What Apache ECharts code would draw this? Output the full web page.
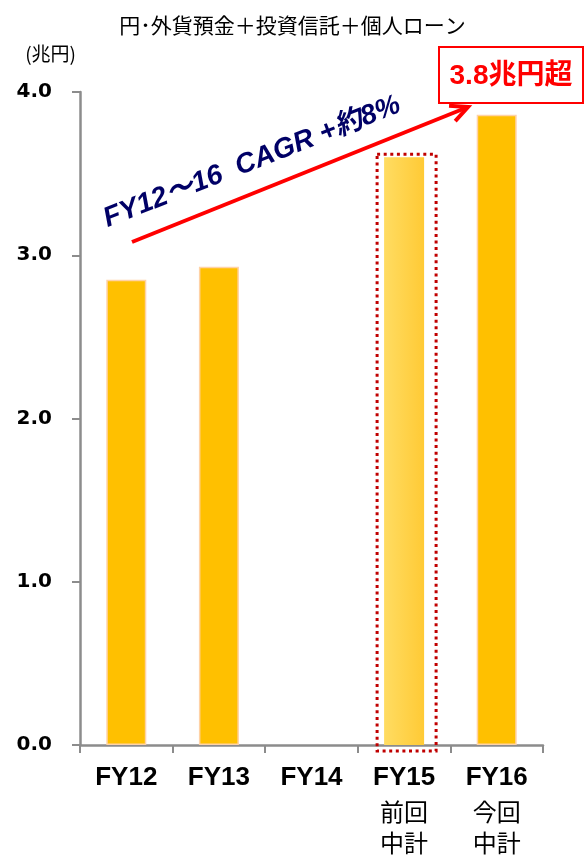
<!DOCTYPE html>
<html>
<head>
<meta charset="utf-8">
<script src="https://cdn.jsdelivr.net/npm/echarts@6/dist/echarts.min.js"></script>
<style>
  html, body { margin: 0; padding: 0; background: #fff; }
  #chart { width: 585px; height: 858px; }
</style>
</head>
<body>
<div id="chart"></div>
<script>
// Balance of yen/foreign-currency deposits + investment trusts + personal loans (trillion yen)
const categories = ['FY12', 'FY13', 'FY14', 'FY15', 'FY16'];
const subLabels = { FY15: ['前回', '中計'], FY16: ['今回', '中計'] };
const balances = [2.85, 2.93, null, 3.60, 3.86];
const yTicks = [0, 1, 2, 3, 4];
const titleText = '円･外貨預金＋投資信託＋個人ローン';
const unitText = '(兆円)';
const cagrText = 'FY12～16  CAGR +約8%';
const targetText = '3.8兆円超';
const planIndex = 3; // previous mid-term plan bar

const LATIN = '"Liberation Sans", Arial, "Noto Sans CJK JP", sans-serif';
const CJK = '"Noto Sans CJK JP", "Liberation Sans", sans-serif';

const chart = echarts.init(document.getElementById('chart'), null, { renderer: 'canvas' });

const barData = balances.map((v, i) => {
  if (v === null) return '-';
  if (i === planIndex) {
    return {
      value: v,
      itemStyle: {
        color: new echarts.graphic.LinearGradient(0, 0, 1, 0, [
          { offset: 0, color: '#FFDC62' },
          { offset: 1, color: '#FFCA35' }
        ]),
        borderWidth: 0
      }
    };
  }
  return v;
});

chart.setOption({
  animation: false,
  title: {
    text: titleText,
    left: 'center',
    top: 10,
    textStyle: { fontFamily: CJK, fontSize: 21, fontWeight: 'normal', color: '#000' }
  },
  grid: { left: 80, right: 42, top: 92, bottom: 113, containLabel: false },
  xAxis: {
    type: 'category',
    data: categories,
    axisLine: { lineStyle: { color: '#8C8C8C', width: 2.5 } },
    axisTick: { show: true, alignWithLabel: false, length: 8, lineStyle: { color: '#8C8C8C', width: 2 } },
    axisLabel: {
      margin: 15,
      interval: 0,
      formatter: function (val) {
        const subs = subLabels[val] || [];
        return ['{a|' + val + '}'].concat(subs.map(s => '{b|' + s + '}')).join('\n');
      },
      rich: {
        a: { fontFamily: LATIN, fontSize: 26, fontWeight: 'bold', color: '#000', lineHeight: 36 },
        b: { fontFamily: CJK, fontSize: 24, color: '#000', lineHeight: 31 }
      }
    }
  },
  yAxis: {
    type: 'value',
    min: yTicks[0],
    max: yTicks[yTicks.length - 1],
    interval: 1,
    name: unitText,
    nameLocation: 'end',
    nameGap: 29,
    nameTextStyle: { fontFamily: CJK, fontSize: 19, color: '#000', align: 'right', padding: [0, 4, 0, 0] },
    splitLine: { show: false },
    axisLine: { show: true, lineStyle: { color: '#8C8C8C', width: 2.5 } },
    axisTick: { show: true, length: 8, lineStyle: { color: '#8C8C8C', width: 2 } },
    axisLabel: {
      margin: 28,
      fontFamily: '"DejaVu Sans", sans-serif',
      fontSize: 20,
      fontWeight: 'bold',
      color: '#000',
      formatter: v => v.toFixed(1)
    }
  },
  series: [{
    type: 'bar',
    data: barData,
    barWidth: 40,
    itemStyle: { color: '#FFC000', borderColor: '#FFD2A6', borderWidth: 1.5 },
    z: 2
  }]
});

// Annotations positioned from the chart's own scales
function px(x, y) { return chart.convertToPixel({ gridIndex: 0 }, [x, y]); }

const planTop = px(planIndex, balances[planIndex]);
const base = px(planIndex, 0);
const boxLeft = planTop[0] - 27;
const boxRight = planTop[0] + 32;
const boxTop = planTop[1] - 3;
const boxBottom = base[1] + 6;

// Arrow for growth trend
const arrowStart = [132, 242];
const arrowTip = [468, 107];
const ang = Math.atan2(arrowTip[1] - arrowStart[1], arrowTip[0] - arrowStart[0]);
const headLen = 19, headSpread = 0.45;
const h1 = [arrowTip[0] - headLen * Math.cos(ang - headSpread), arrowTip[1] - headLen * Math.sin(ang - headSpread)];
const h2 = [arrowTip[0] - headLen * Math.cos(ang + headSpread), arrowTip[1] - headLen * Math.sin(ang + headSpread)];

chart.setOption({
  graphic: [
    {
      type: 'rect',
      shape: { x: boxLeft, y: boxTop, width: boxRight - boxLeft, height: boxBottom - boxTop },
      style: { fill: null, stroke: '#C00000', lineWidth: 3, lineDash: [3, 3.6] },
      z: 10
    },
    {
      type: 'line',
      shape: { x1: arrowStart[0], y1: arrowStart[1], x2: arrowTip[0], y2: arrowTip[1] },
      style: { stroke: '#FF0000', lineWidth: 4 },
      z: 10
    },
    {
      type: 'polyline',
      shape: { points: [h1, arrowTip, h2] },
      style: { stroke: '#FF0000', lineWidth: 4, fill: null, lineJoin: 'miter' },
      z: 10
    },
    {
      type: 'text',
      x: 252, y: 162,
      rotation: 21.5 * Math.PI / 180,
      style: {
        text: cagrText,
        fontFamily: LATIN,
        fontSize: 28,
        fontWeight: 'bold',
        fontStyle: 'italic',
        fill: '#000066',
        align: 'center',
        verticalAlign: 'middle'
      },
      z: 10
    },
    {
      type: 'rect',
      shape: { x: 439, y: 47, width: 144, height: 56 },
      style: { fill: '#fff', stroke: '#FF0000', lineWidth: 2 },
      z: 10
    },
    {
      type: 'text',
      x: 511, y: 76,
      style: {
        text: targetText,
        fontFamily: LATIN,
        fontSize: 28,
        fontWeight: 'bold',
        fill: '#FF0000',
        align: 'center',
        verticalAlign: 'middle'
      },
      z: 11
    }
  ]
});
</script>
</body>
</html>
